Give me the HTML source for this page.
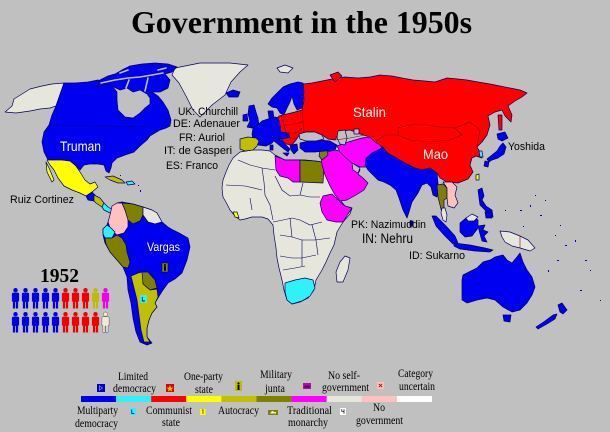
<!DOCTYPE html>
<html><head><meta charset="utf-8"><style>
html,body{margin:0;padding:0;background:#c0c0c0;}
svg{display:block;}
.l{font-family:"Liberation Sans",Arial,sans-serif;}
.s{font-family:"Liberation Serif","Times New Roman",serif;}
</style></head><body>
<svg width="610" height="432" viewBox="0 0 610 432" xmlns="http://www.w3.org/2000/svg">
<rect width="610" height="432" fill="#c0c0c0"/>
<text x="131" y="33" class="s" font-size="32" font-weight="bold" fill="#000" textLength="341" lengthAdjust="spacingAndGlyphs">Government in the 1950s</text>

<g stroke="#000060" stroke-width="0.7" stroke-linejoin="round">
<!-- Greenland -->
<polygon fill="#e6e6dc" points="175,68 200,63 230,63 248,65 240,72 231,82 225,95 212,105 200,117 193,110 186,96 179,83 172,75"/>
<!-- Alaska -->
<polygon fill="#e6e6dc" points="5,112 12,106 14,99 22,94 30,89 42,86 52,84 64,83 56,106 50,108 40,109 30,111 16,113"/>
<!-- North America -->
<polygon fill="#0000f0" points="56,106 64,83 75,83 88,82 98,80 105,82 112,86 117,92 117,100 118,110 125,117 133,118 140,113 145,108 150,104 150,98 147,94 152,92 158,96 163,102 168,110 171,120 170,126 166,128 160,130 155,133 150,136 147,140 140,146 134,152 125,155 117,158 112,163 111,168 109,173 106,171 104,165 98,164 90,164 84,165 80,170 76,166 70,161 62,160 48,160 44,152 42,142 44,132 49,125 52,115"/>
<polygon fill="#0000f0" points="97,88 100,80 108,76 115,74 122,70 130,66 142,64 155,63 168,64 177,67 172,72 165,74 170,80 168,88 160,92 152,92 147,94 140,90 133,92 127,88 120,90 112,86 105,84"/>
<polygon fill="#0000f0" points="226,93 233,90 240,92 238,97 229,97"/>
<!-- Mexico -->
<polygon fill="#ffff00" points="47,160 62,160 70,161 76,166 80,172 85,180 90,184 95,182 98,187 92,192 86,196 80,193 72,190 64,186 58,178 54,170 50,165"/>
<polygon fill="#ffff00" points="46,162 50,170 54,180 52,182 47,172"/>
<!-- Central America -->
<polygon fill="#0000f0" points="86,196 92,192 95,195 94,201 88,200"/>
<polygon fill="#c0c000" points="94,195 100,198 104,203 102,207 96,203 94,201"/>
<polygon fill="#30f0f8" points="102,207 104,203 108,207 113,210 115,214 110,213 104,210"/>
<polygon fill="#c0c000" points="105,177 113,176 122,180 125,183 118,183 110,180"/>
<polygon fill="#30f0f8" points="126,182 132,181 135,184 128,185"/>
<!-- South America -->
<polygon fill="#0000f0" points="117,203 122,202 133,204 143,207 152,210 157,213 162,222 168,227 173,230 181,234 188,238 190,247 187,260 182,273 175,279 168,283 163,290 158,298 155,303 157,307 152,313 149,320 147,328 147,337 152,343 147,345 140,342 136,332 133,318 131,303 128,290 127,277 123,267 117,260 110,252 105,243 103,235 103,229 107,225 110,217 112,208"/>
<polygon fill="#ffc0c0" points="112,206 117,203 122,203 125,210 128,218 128,227 124,233 117,235 111,230 108,222 110,215"/>
<polygon fill="#808000" points="122,203 133,204 143,207 143,215 140,221 133,224 128,220 125,210"/>
<polygon fill="#e6e6dc" points="143,207 152,210 157,213 162,222 155,224 148,222 143,215"/>
<polygon fill="#30f0f8" points="103,229 107,225 111,228 115,232 112,238 105,238 103,234"/>
<polygon fill="#808000" points="105,238 112,238 117,235 122,238 126,245 127,252 130,262 128,268 123,267 117,260 110,252 106,244"/>
<polygon fill="#808000" points="140,272 148,272 155,280 157,288 150,290 143,284"/>
<polygon fill="#c0c000" points="131,276 138,273 142,272 143,284 150,290 157,289 158,297 155,303 157,307 152,313 149,320 147,328 147,337 150,342 144,342 141,330 139,315 137,300 134,288"/>
<!-- Africa -->
<polygon fill="#e6e6dc" points="233,158 240,152 252,150 262,150 270,151 275,155 285,160 298,160 305,160 315,161 322,162 326,170 330,180 335,192 340,200 345,206 352,208 350,214 343,222 337,232 334,245 330,253 326,262 322,270 316,280 314,290 308,298 300,302 292,304 287,300 284,290 282,280 279,268 277,258 276,248 274,235 273,225 268,219 262,217 252,217 245,219 240,220 235,216 230,210 227,204 223,197 222,188 223,180 226,172 229,165"/>
<polygon fill="#ff00ff" points="275,156 285,160 300,160 300,182 293,182 288,178 280,176 276,170"/>
<polygon fill="#808000" points="300,160 315,161 322,162 324,168 323,183 300,182"/>
<polygon fill="#ff00ff" points="323,196 332,194 338,200 345,206 352,208 348,214 343,222 336,222 327,220 322,212 320,203"/>
<polygon fill="#30f0f8" points="285,283 295,280 305,278 313,280 315,288 310,296 302,301 292,304 287,300 285,292"/>
<polygon fill="#ffff00" points="233,212 237,212 239,218 235,217"/>
<polygon fill="#e6e6dc" points="345,256 350,258 348,270 343,282 337,282 336,272 340,262"/>
</g>
<!-- arctic channels -->
<g fill="none" stroke="#c0c0c0" stroke-width="1.6" stroke-linecap="round">
<polyline points="101,83 115,80 128,78 140,77 152,75 163,73"/>
<polyline points="126,88 129,80"/>
<polyline points="145,91 148,78"/>
<polyline points="120,73 128,70"/>
<polyline points="158,70 166,68"/>
</g>
<g fill="none" stroke="#000060" stroke-width="0.6">
<polyline points="238,160 250,165 262,168 275,170"/>
<polyline points="262,168 264,182 265,195 270,205 273,220"/>
<polyline points="226,185 245,186 262,190"/>
<polyline points="275,176 282,190 290,196 300,195 303,183"/>
<polyline points="300,195 310,197 320,197"/>
<polyline points="250,198 252,210"/>
<polyline points="273,222 283,220 292,218 300,220 310,225 322,222"/>
<polyline points="280,235 292,237 302,240 315,240 330,238"/>
<polyline points="280,256 292,258 302,258 316,255"/>
<polyline points="283,270 295,268 305,266"/>
<polyline points="302,240 302,266"/>
<polyline points="290,218 292,237"/>
<polyline points="312,225 316,240 318,255"/>
</g>
<g stroke="#000060" stroke-width="0.7" stroke-linejoin="round">
<!-- Middle East -->
<polygon fill="#ff00ff" points="321,155 327,152 335,150 343,152 350,158 355,164 360,170 358,174 363,178 368,183 364,190 356,195 347,200 340,201 335,195 330,186 325,175 322,165"/>
<polygon fill="#ff00ff" points="337,146 345,143 355,140 362,138 370,137 375,142 380,145 383,150 378,157 372,162 368,167 360,167 352,163 345,157 340,152"/>
<polygon fill="#808000" points="320,150 327,149 328,155 322,160 319,156"/>
<!-- USSR + China -->
<polygon fill="#ff0000" points="303,84 312,83 322,81 332,79 345,77 358,78 370,77 380,75 392,76 402,78 413,80 425,81 435,82 447,78 458,79 467,80 478,82 490,84 500,86 510,88 520,90 527,93 522,97 515,101 508,106 512,115 511,122 505,116 502,110 495,112 488,116 490,125 487,135 482,142 477,147 480,152 482,158 476,156 472,158 470,165 473,172 468,179 458,183 447,182 440,178 437,173 430,168 422,170 415,168 405,163 398,160 390,155 385,150 380,145 375,142 370,137 363,135 358,133 350,130 343,131 338,135 335,140 328,139 322,135 313,132 306,132 300,134 296,140 292,145 286,144 282,140 278,136 275,128 275,120 279,116 287,114 295,112 302,110 304,100"/>
<polygon fill="#ff0000" points="330,75 338,72 342,76 335,82"/>
<polygon fill="#ff0000" points="498,115 502,115 502,130 499,130"/>
<!-- Turkey -->
<polygon fill="#0000f0" points="300,143 310,141 320,140 330,141 337,145 335,150 325,151 315,152 305,152 300,148"/>
<!-- Europe -->
<polygon fill="#0000f0" points="268,104 272,98 278,92 283,87 290,84 298,82 303,83 304,92 302,108 297,110 294,104 292,96 290,102 287,108 284,115 280,113 277,108 272,107"/>
<polygon fill="#0000f0" points="268,111 273,111 274,118 269,118"/>
<polygon fill="#0000f0" points="249,106 254,105 256,112 258,118 259,125 252,128 247,127 250,121 248,114"/>
<polygon fill="#0000f0" points="243,115 247,114 248,121 243,121"/>
<polygon fill="#0000f0" points="253,128 258,125 262,121 268,119 275,117 278,118 280,124 281,132 288,133 290,137 283,139 276,138 272,143 266,146 258,145 253,140 252,134"/>
<polygon fill="#0000f0" points="272,137 278,138 282,141 286,145 290,149 288,152 284,149 279,145 274,141"/>
<polygon fill="#0000f0" points="283,153 289,153 287,156"/>
<polygon fill="#0000f0" points="270,145 273,145 273,150 270,150"/>
<polygon fill="#0000f0" points="290,145 297,144 298,150 294,154 291,150"/>
<polygon fill="#c0c000" points="240,139 248,137 256,138 259,141 257,146 253,150 245,151 240,149 240,144"/>
<polygon fill="#e6e6dc" points="277,68 285,65 293,68 288,73 280,72"/>
<!-- seas -->
<polygon fill="#c0c0c0" points="299,134 306,132 315,132 322,135 324,139 316,141 306,141 300,139"/>
<polygon fill="#c0c0c0" points="338,131 345,130 347,138 345,145 340,144 337,138"/>
<polygon fill="#c0c0c0" points="354,129 359,129 359,134 354,134"/>
<polygon fill="#c0c0c0" points="352,163 360,168 358,173 353,170"/>
<!-- South Asia -->
<polygon fill="#0000f0" points="366,158 372,153 378,150 383,147 387,153 395,157 400,160 408,165 415,168 422,170 430,168 437,173 438,183 437,197 433,195 431,187 427,183 422,185 418,193 412,202 409,212 407,218 403,210 399,198 396,190 390,185 384,182 378,180 373,175 368,170 365,165"/>
<polygon fill="#0000f0" points="410,221 413,221 413,226 410,226"/>
<polygon fill="#808000" points="437,185 443,184 447,188 447,198 444,200 444,207 446,214 442,213 440,205 438,197"/>
<polygon fill="#ffc0c0" points="443,182 452,182 457,187 455,195 458,203 454,208 448,206 447,198 447,188"/>
<polygon fill="#e6e6dc" points="442,208 445,208 447,215 446,222 443,220 441,213"/>
<!-- East Asia islands -->
<polygon fill="#0000f0" points="497,134 505,132 508,138 502,141 498,139"/>
<polygon fill="#0000f0" points="503,143 506,147 504,154 498,158 492,160 489,162 487,159 492,155 497,151 500,146"/>
<polygon fill="#0000f0" points="485,161 489,162 488,167 484,166"/>
<polygon fill="#30f0f8" points="479,151 482,151 483,157 480,157"/>
<polygon fill="#ffff00" points="476,175 479,174 479,180 476,180"/>
<polygon fill="#0000f0" points="478,190 482,188 484,196 482,200 486,206 492,210 493,217 487,215 485,210 480,205 479,198"/>
<polygon fill="#0000f0" points="485,212 492,212 492,218 486,218"/>
<polygon fill="#0000f0" points="432,216 436,216 446,226 455,236 458,243 453,244 445,236 436,226"/>
<polygon fill="#0000f0" points="454,243 470,245 485,248 493,250 490,252 475,251 460,249 454,246"/>
<polygon fill="#0000f0" points="460,223 466,218 472,215 478,220 478,228 472,236 465,237 460,232"/>
<polygon fill="#e6e6dc" points="466,218 472,214 478,217 474,221 468,221"/>
<polygon fill="#0000f0" points="478,226 485,225 483,230 488,232 484,236 487,242 482,241 480,234"/>
<polygon fill="#e6e6dc" points="500,231 510,232 520,236 528,240 535,248 530,251 520,248 512,246 505,242 502,237"/>
<!-- Australia -->
<polygon fill="#0000f0" points="462,280 463,275 477,268 483,262 490,260 495,257 503,255 507,260 512,263 517,257 520,253 523,262 527,270 532,277 535,287 532,295 527,303 520,310 512,312 503,307 495,300 487,298 477,300 467,303 462,300 462,290"/>
<polygon fill="#0000f0" points="503,315 511,315 510,322 504,321"/>
<polygon fill="#0000f0" points="558,305 562,303 567,310 563,314 560,312"/>
<polygon fill="#0000f0" points="536,327 545,321 553,315 557,314 555,319 547,324 538,329"/>
</g>
<g fill="none" stroke="#800000" stroke-width="0.6">
<polyline points="398,128 410,125 420,124 440,127 455,128 462,135 450,140 430,142 410,140 398,135 398,128"/>
<polyline points="455,128 470,122 480,130 477,147"/>
<polyline points="375,142 385,135 398,135"/>
<polyline points="335,140 350,138 365,135"/>
<polyline points="281,116 284,125 286,133"/>
<polyline points="284,125 294,124 302,122"/>
<polyline points="286,133 296,133 302,128"/>
<polyline points="289,138 297,139"/>
<polyline points="302,110 303,120 304,132"/>
<line x1="520" y1="236" x2="520" y2="248"/>
</g>
<line x1="49" y1="125" x2="150" y2="127" stroke="#000080" stroke-width="0.6"/>
<!-- small islands -->
<g fill="#0000c0">
<rect x="520" y="210" width="2" height="1"/><rect x="530" y="205" width="1" height="2"/><rect x="540" y="215" width="2" height="1"/>
<rect x="545" y="200" width="1" height="1"/><rect x="565" y="245" width="2" height="1"/><rect x="575" y="240" width="1" height="2"/>
<rect x="557" y="260" width="2" height="1"/><rect x="523" y="226" width="1" height="1"/><rect x="548" y="270" width="1" height="2"/>
<rect x="560" y="225" width="1" height="1"/><rect x="585" y="260" width="2" height="1"/><rect x="590" y="270" width="1" height="1"/>
<rect x="535" y="195" width="1" height="1"/><rect x="555" y="235" width="1" height="1"/><rect x="505" y="210" width="1" height="1"/>
<rect x="140" y="190" width="1" height="2"/><rect x="138" y="185" width="1" height="1"/><rect x="120" y="175" width="1" height="1"/>
<rect x="580" y="290" width="2" height="1"/><rect x="600" y="300" width="1" height="1"/>
</g>
<!-- icons on map -->
<rect x="162" y="263" width="6" height="9" fill="#808000" stroke="#000" stroke-width="0.4"/>
<circle cx="165" cy="265" r="1" fill="#000"/><rect x="164" y="266.3" width="2" height="4.5" fill="#000"/>
<rect x="140" y="295" width="7" height="8" fill="#30f0f8"/>
<path d="M142.3,297 v4 h2.6" fill="none" stroke="#000080" stroke-width="0.9"/>

<!-- labels -->
<g class="l" fill="#000">
<text x="178" y="115" font-size="11" textLength="60" lengthAdjust="spacingAndGlyphs">UK: Churchill</text>
<text x="173" y="127" font-size="11" textLength="67" lengthAdjust="spacingAndGlyphs">DE: Adenauer</text>
<text x="179" y="141" font-size="11" textLength="46" lengthAdjust="spacingAndGlyphs">FR: Auriol</text>
<text x="164" y="154" font-size="11" textLength="68" lengthAdjust="spacingAndGlyphs">IT: de Gasperi</text>
<text x="166" y="169" font-size="11" textLength="52" lengthAdjust="spacingAndGlyphs">ES: Franco</text>
<text x="10" y="203" font-size="11" textLength="64" lengthAdjust="spacingAndGlyphs">Ruiz Cortinez</text>
<text x="508" y="150" font-size="11" textLength="37" lengthAdjust="spacingAndGlyphs">Yoshida</text>
<text x="351" y="228" font-size="11" textLength="75" lengthAdjust="spacingAndGlyphs">PK: Nazimuddin</text>
<text x="362" y="243" font-size="14" textLength="51" lengthAdjust="spacingAndGlyphs">IN: Nehru</text>
<text x="409" y="259" font-size="11" textLength="56" lengthAdjust="spacingAndGlyphs">ID: Sukarno</text>
</g>
<g class="l" fill="#fff">
<text x="60" y="151" font-size="14" textLength="41" lengthAdjust="spacingAndGlyphs">Truman</text>
<text x="353" y="117" font-size="14" textLength="33" lengthAdjust="spacingAndGlyphs">Stalin</text>
<text x="423" y="159" font-size="14" textLength="25" lengthAdjust="spacingAndGlyphs">Mao</text>
<text x="147" y="251" font-size="12" textLength="33" lengthAdjust="spacingAndGlyphs">Vargas</text>
</g>

<!-- 1952 people -->
<text x="40" y="282" class="s" font-size="20" font-weight="bold" fill="#000" textLength="39" lengthAdjust="spacingAndGlyphs">1952</text>
<defs>
<g id="p">
<circle cx="0" cy="2.2" r="2.2"/>
<path d="M-3.6,6 Q-3.6,4.6 -2.2,4.6 H2.2 Q3.6,4.6 3.6,6 V13.5 H2.6 V20.5 H0.4 V14 H-0.4 V20.5 H-2.6 V13.5 H-3.6 Z"/>
</g>
</defs>
<g>
<use href="#p" x="15.5" y="288" fill="#0000e0"/><use href="#p" x="25.5" y="288" fill="#0000e0"/><use href="#p" x="35.5" y="288" fill="#0000e0"/><use href="#p" x="45.5" y="288" fill="#0000e0"/><use href="#p" x="55.5" y="288" fill="#0000e0"/>
<use href="#p" x="65.5" y="288" fill="#f00000"/><use href="#p" x="75.5" y="288" fill="#f00000"/><use href="#p" x="85.5" y="288" fill="#f00000"/><use href="#p" x="95.5" y="288" fill="#bdbd00"/><use href="#p" x="105.5" y="288" fill="#f000f0"/>
<use href="#p" x="15.5" y="312" fill="#0000e0"/><use href="#p" x="25.5" y="312" fill="#0000e0"/><use href="#p" x="35.5" y="312" fill="#0000e0"/><use href="#p" x="45.5" y="312" fill="#0000e0"/><use href="#p" x="55.5" y="312" fill="#0000e0"/>
<use href="#p" x="65.5" y="312" fill="#f00000"/><use href="#p" x="75.5" y="312" fill="#f00000"/><use href="#p" x="85.5" y="312" fill="#f00000"/><use href="#p" x="95.5" y="312" fill="#f00000"/><use href="#p" x="105.5" y="312" fill="#ececdc" stroke="#000" stroke-width="0.3"/>
</g>

<!-- legend bar -->
<rect x="81" y="396" width="35.1" height="6" fill="#0000f0"/>
<rect x="116.1" y="396" width="35.1" height="6" fill="#30f0f8"/>
<rect x="151.2" y="396" width="35.1" height="6" fill="#ff0000"/>
<rect x="186.3" y="396" width="35.1" height="6" fill="#ffff00"/>
<rect x="221.4" y="396" width="35.1" height="6" fill="#c0c000"/>
<rect x="256.5" y="396" width="35.1" height="6" fill="#808000"/>
<rect x="291.6" y="396" width="35.1" height="6" fill="#ff00ff"/>
<rect x="326.7" y="396" width="35.1" height="6" fill="#e6e6dc"/>
<rect x="361.8" y="396" width="35.1" height="6" fill="#ffc0c0"/>
<rect x="396.9" y="396" width="35.1" height="6" fill="#ffffff"/>

<!-- legend icons -->
<rect x="97" y="384" width="8" height="8" fill="#0000c0"/>
<path d="M99.5,385.8 v4.4 l3,-2.2 z" fill="none" stroke="#9090ff" stroke-width="0.7"/>
<rect x="166" y="384" width="8" height="8" fill="#e00000"/>
<polygon points="170,385 171,387.6 173.5,387.7 171.5,389.2 172.2,391.5 170,390.1 167.8,391.5 168.5,389.2 166.5,387.7 169,387.6" fill="#ffd000"/>
<rect x="235" y="381" width="7" height="10" fill="#bdbd00"/>
<circle cx="238.5" cy="383.5" r="1.1" fill="#000"/><rect x="237.5" y="385" width="2" height="5" fill="#000"/>
<rect x="303" y="383" width="8" height="6" fill="#c000c0"/>
<path d="M304.5,387.5 v-2.5 l1.3,1.2 l1.2,-1.5 l1.2,1.5 l1.3,-1.2 v2.5 z" fill="#400040"/>
<rect x="377" y="382" width="7" height="7" fill="#ffc0c0"/>
<path d="M378.8,383.8 l3.4,3.4 M382.2,383.8 l-3.4,3.4" stroke="#c00000" stroke-width="0.8"/>
<rect x="130" y="408" width="6" height="7" fill="#30f0f8"/>
<path d="M131.8,409.5 v4 h2.4" fill="none" stroke="#000080" stroke-width="0.8"/>
<rect x="200" y="409" width="5.5" height="6" fill="#ffff00"/>
<path d="M202,410.3 l1,-0.6 v4.3" fill="none" stroke="#404000" stroke-width="0.7"/>
<rect x="268" y="410" width="10" height="5" fill="#808000"/>
<path d="M270,413.5 h6 v-1.5 h-3 l1,-1 h-2 z" fill="#f0f0e0"/>
<rect x="340" y="408" width="6" height="7" fill="#ffffff"/>
<path d="M341.8,409.3 v2 h2.2 M344,409.3 v4.5" fill="none" stroke="#000" stroke-width="0.7"/>

<!-- legend text -->
<g class="s" fill="#000" font-size="11.5">
<text x="118" y="380" textLength="30" lengthAdjust="spacingAndGlyphs">Limited</text>
<text x="113" y="392" textLength="43" lengthAdjust="spacingAndGlyphs">democracy</text>
<text x="184" y="380" textLength="39" lengthAdjust="spacingAndGlyphs">One-party</text>
<text x="195" y="393" textLength="18" lengthAdjust="spacingAndGlyphs">state</text>
<text x="260" y="378" textLength="32" lengthAdjust="spacingAndGlyphs">Military</text>
<text x="265" y="392" textLength="20" lengthAdjust="spacingAndGlyphs">junta</text>
<text x="328" y="379" textLength="32" lengthAdjust="spacingAndGlyphs">No self-</text>
<text x="322" y="391" textLength="47" lengthAdjust="spacingAndGlyphs">government</text>
<text x="398" y="377" textLength="35" lengthAdjust="spacingAndGlyphs">Category</text>
<text x="399" y="390" textLength="36" lengthAdjust="spacingAndGlyphs">uncertain</text>
<text x="77" y="414" textLength="41" lengthAdjust="spacingAndGlyphs">Multiparty</text>
<text x="75" y="427" textLength="43" lengthAdjust="spacingAndGlyphs">democracy</text>
<text x="146" y="414" textLength="46" lengthAdjust="spacingAndGlyphs">Communist</text>
<text x="162" y="426" textLength="18" lengthAdjust="spacingAndGlyphs">state</text>
<text x="218" y="414" textLength="41" lengthAdjust="spacingAndGlyphs">Autocracy</text>
<text x="287" y="414" textLength="45" lengthAdjust="spacingAndGlyphs">Traditional</text>
<text x="288" y="426" textLength="40" lengthAdjust="spacingAndGlyphs">monarchy</text>
<text x="373" y="411" textLength="12" lengthAdjust="spacingAndGlyphs">No</text>
<text x="356" y="424" textLength="47" lengthAdjust="spacingAndGlyphs">government</text>
</g>
</svg>
</body></html>
